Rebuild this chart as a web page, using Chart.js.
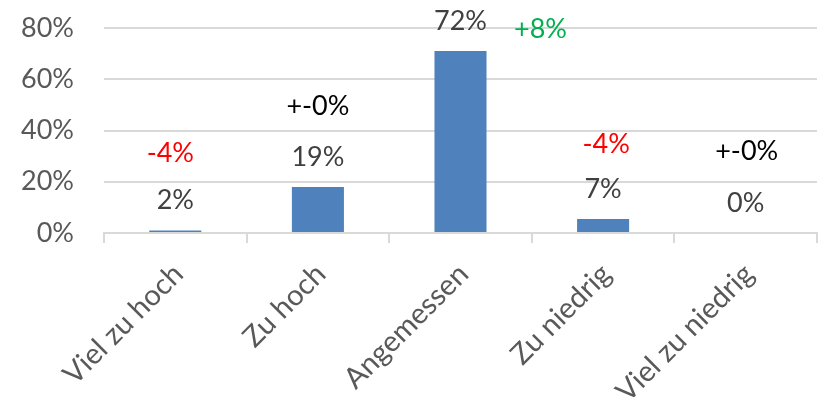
<!DOCTYPE html>
<html>
<head>
<meta charset="utf-8">
<script src="https://cdn.jsdelivr.net/npm/chart.js@4"></script>
<style>
  html, body { margin: 0; padding: 0; background: #ffffff; }
  #wrap { width: 821px; height: 400px; }
</style>
</head>
<body>
<div id="wrap"><canvas id="c" width="821" height="400"></canvas></div>
<script>
// ---- data ----
const categories = ['Viel zu hoch', 'Zu hoch', 'Angemessen', 'Zu niedrig', 'Viel zu niedrig'];
const shares = [1, 18, 71, 5.5, 0];
const shareLabels = ['2%', '19%', '72%', '7%', '0%'];
const changeLabels = ['-4%', '+-0%', '+8%', '-4%', '+-0%'];
const changeKinds = ['down', 'flat', 'up', 'down', 'flat'];
const yTickValues = [0, 20, 40, 60, 80];

// ---- style ----
const FONT = 'Lato, "Open Sans", sans-serif';
const BAR_COLOR = '#4F81BD';
const GRID_COLOR = '#D9D9D9';
const kindColors = { down: '#FF0000', up: '#00B050', flat: '#000000' };
const valueLabelRise = 30;
const changeOffsets = [
  { dx: -5, dy: 47 },
  { dx: 0, dy: 51 },
  { dx: 80, dy: -8 },
  { dx: 3, dy: 45 },
  { dx: 1, dy: 52 }
];

const labelPlugin = {
  id: 'barLabels',
  afterDatasetsDraw(chart) {
    const ctx = chart.ctx;
    const meta = chart.getDatasetMeta(0);
    ctx.save();
    ctx.textAlign = 'center';
    ctx.textBaseline = 'middle';
    ctx.font = '27px ' + FONT;
    meta.data.forEach((bar, i) => {
      const cx = bar.x;
      const cy = bar.y - valueLabelRise;
      ctx.fillStyle = '#404040';
      ctx.fillText(shareLabels[i], cx, cy);
      const off = changeOffsets[i];
      ctx.fillStyle = kindColors[changeKinds[i]];
      ctx.fillText(changeLabels[i], cx + off.dx, cy - off.dy);
    });
    ctx.restore();
  }
};

new Chart(document.getElementById('c'), {
  type: 'bar',
  data: {
    labels: categories,
    datasets: [{
      data: shares,
      backgroundColor: BAR_COLOR,
      borderWidth: 0,
      barPercentage: 0.365,
      categoryPercentage: 1.0
    }]
  },
  options: {
    responsive: false,
    devicePixelRatio: 1,
    animation: false,
    layout: { padding: { top: 28, right: 4, left: 0, bottom: 0 } },
    plugins: { legend: { display: false }, tooltip: { enabled: false } },
    scales: {
      x: {
        afterFit(scale) {
          scale.height = 167;
          scale.paddingLeft = 0;
          scale.paddingRight = 0;
        },
        grid: {
          display: true,
          drawOnChartArea: false,
          drawTicks: true,
          tickLength: 10,
          color: GRID_COLOR,
          lineWidth: 2,
          offset: true
        },
        border: { display: true, color: GRID_COLOR, width: 2 },
        ticks: {
          minRotation: 45,
          maxRotation: 45,
          autoSkip: false,
          padding: 14,
          labelOffset: 3,
          color: '#595959',
          font: { family: FONT, size: 29 }
        }
      },
      y: {
        min: 0,
        max: 80,
        afterFit(scale) {
          scale.width = 104;
          scale.paddingTop = 0;
          scale.paddingBottom = 0;
        },
        afterBuildTicks(scale) { scale.ticks = yTickValues.map(v => ({ value: v })); },
        grid: {
          color: GRID_COLOR,
          lineWidth: 2,
          drawTicks: false
        },
        border: { display: false },
        ticks: {
          padding: 30,
          color: '#595959',
          font: { family: FONT, size: 27 },
          callback: v => v + '%'
        }
      }
    }
  },
  plugins: [labelPlugin]
});
</script>
</body>
</html>
